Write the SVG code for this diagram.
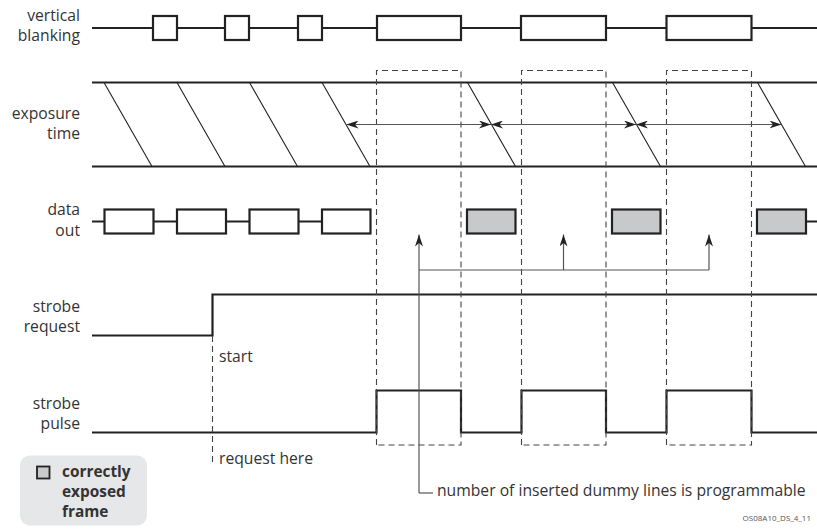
<svg xmlns="http://www.w3.org/2000/svg" width="817" height="529" viewBox="0 0 817 529">
<defs>
<style>
.lbl{font-family:"Open Sans","Liberation Sans",sans-serif;font-size:15.7px;fill:#333;text-anchor:end}
.txt{font-family:"Open Sans","Liberation Sans",sans-serif;font-size:15.7px;fill:#333}
.bold{font-family:"Open Sans","Liberation Sans",sans-serif;font-size:15.4px;font-weight:bold;fill:#333}
.sig{fill:none;stroke:#222;stroke-width:2.2}
.box{fill:#fff;stroke:#222;stroke-width:2.2}
.gbox{fill:#c8c9cb;stroke:#222;stroke-width:2.2}
.diag{fill:none;stroke:#222;stroke-width:1.1}
.dash{fill:none;stroke:#444;stroke-width:1.1;stroke-dasharray:6,4}
.arr{fill:none;stroke:#555;stroke-width:1.2}
</style>
<marker id="ah" viewBox="0 0 12 8" refX="12" refY="4" markerWidth="12" markerHeight="8" markerUnits="userSpaceOnUse" orient="auto-start-reverse">
<path d="M0,0 L12,4 L0,8 L3.5,4 Z" fill="#222"/>
</marker>
</defs>
<rect width="817" height="529" fill="#fff"/>

<g id="labels">
<text class="lbl" x="80" y="21">vertical</text>
<text class="lbl" x="80" y="41">blanking</text>
<text class="lbl" x="80" y="118.5">exposure</text>
<text class="lbl" x="80" y="139">time</text>
<text class="lbl" x="80" y="215">data</text>
<text class="lbl" x="80" y="235.5">out</text>
<text class="lbl" x="80" y="312">strobe</text>
<text class="lbl" x="80" y="332">request</text>
<text class="lbl" x="80" y="409">strobe</text>
<text class="lbl" x="80" y="429">pulse</text>
</g>

<g id="vertical-blanking">
<path class="sig" d="M92,28 H817"/>
<rect class="box" x="153" y="16" width="24" height="24"/>
<rect class="box" x="225" y="16" width="24" height="24"/>
<rect class="box" x="298" y="16" width="24" height="24"/>
<rect class="box" x="377" y="16" width="84" height="24"/>
<rect class="box" x="521" y="16" width="85" height="24"/>
<rect class="box" x="666.5" y="16" width="85" height="24"/>
</g>

<g id="exposure-time">
<path class="sig" d="M92,82.5 H817 M92,166.5 H817"/>
<path class="diag" d="M104,82.5 L152,166.5 M177,82.5 L225,166.5 M249.5,82.5 L297.5,166.5 M322,82.5 L370,166.5 M467.5,82.5 L515.5,166.5 M612.5,82.5 L660.5,166.5 M757.5,82.5 L805.5,166.5"/>
</g>

<g id="data-out">
<path class="sig" d="M92,221.5 H104 M153,221.5 H177 M226,221.5 H249.5 M298.5,221.5 H322 M806,221.5 H817"/>
<rect class="box" x="104.5" y="209.5" width="49" height="24"/>
<rect class="box" x="177" y="209.5" width="49" height="24"/>
<rect class="box" x="249.5" y="209.5" width="49" height="24"/>
<rect class="box" x="322" y="209.5" width="48.5" height="24"/>
<rect class="gbox" x="467" y="209.5" width="48.5" height="24"/>
<rect class="gbox" x="612" y="209.5" width="48.5" height="24"/>
<rect class="gbox" x="757" y="209.5" width="49" height="24"/>
</g>

<g id="strobe-request">
<path class="sig" d="M92,335.5 H212.5 V294.5 H817"/>
</g>

<g id="strobe-pulse">
<path class="sig" d="M92,432.5 H376.5 V390.5 H461 V432.5 H521.5 V390.5 H606 V432.5 H666.5 V390.5 H751.5 V432.5 H817"/>
</g>

<g id="connectors">
<path class="dash" d="M376.5,445 V70.5 H461 V445 Z"/>
<path class="dash" d="M521.5,445 V70.5 H606 V445 Z"/>
<path class="dash" d="M666.5,445 V70.5 H751.5 V445 Z"/>
<path class="dash" d="M212.5,336 V462"/>
<path class="arr" d="M346.5,124.5 H491" marker-start="url(#ah)" marker-end="url(#ah)"/>
<path class="arr" d="M491,124.5 H636" marker-start="url(#ah)" marker-end="url(#ah)"/>
<path class="arr" d="M636,124.5 H781.5" marker-start="url(#ah)" marker-end="url(#ah)"/>
<path class="arr" d="M419,493 V234.5" marker-end="url(#ah)"/>
<path class="arr" d="M419,493 H433"/>
<path class="arr" d="M419,270 H709"/>
<path class="arr" d="M563.5,270 V234.5" marker-end="url(#ah)"/>
<path class="arr" d="M709,270 V234.5" marker-end="url(#ah)"/>
</g>

<g id="annotations">
<text class="txt" x="219" y="362">start</text>
<text class="txt" x="219" y="464">request here</text>
<text class="txt" x="437" y="496">number of inserted dummy lines is programmable</text>
<text x="811" y="521" style="font-family:'Open Sans','Liberation Sans',sans-serif;font-size:8px;fill:#555;text-anchor:end">OS08A10_DS_4_11</text>
</g>

<g id="legend">
<rect x="20" y="455.5" width="127" height="70" rx="10" ry="10" fill="#e6e7e8"/>
<rect x="37" y="466.5" width="12.5" height="12" fill="#c8c9cb" stroke="#222" stroke-width="1.8"/>
<text class="bold" x="62" y="477">correctly</text>
<text class="bold" x="62" y="497">exposed</text>
<text class="bold" x="62" y="517">frame</text>
</g>
</svg>
